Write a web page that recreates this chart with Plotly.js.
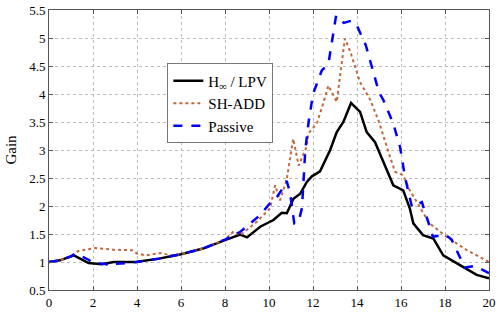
<!DOCTYPE html>
<html>
<head>
<meta charset="utf-8">
<script src="https://cdn.plot.ly/plotly-3.0.1.min.js"></script>
<style>html,body{margin:0;padding:0;background:#fff;}#chart{width:499px;height:312px;}</style>
</head>
<body>
<div id="chart"></div>
<script>
// H-infinity / LPV (solid black)
var hinfX = [0, 0.5, 1.13, 1.8, 2.4, 2.79, 2.94, 3.93, 5, 6, 7, 8, 8.5, 8.69, 9.0, 9.6, 10.2, 10.58, 10.81, 11.11, 11.42, 11.72, 11.95, 12.32, 12.78, 13.08, 13.38, 13.73, 14.14, 14.44, 14.82, 15.2, 15.65, 16.1, 16.4, 16.56, 17.0, 17.47, 17.92, 18.68, 19.44, 20];
var hinfY = [1.0, 1.03, 1.12, 0.98, 0.96, 0.98, 1.0, 1.0, 1.06, 1.14, 1.24, 1.39, 1.46, 1.49, 1.44, 1.63, 1.75, 1.88, 1.87, 2.13, 2.22, 2.43, 2.53, 2.62, 3.0, 3.32, 3.5, 3.84, 3.68, 3.32, 3.14, 2.79, 2.37, 2.28, 1.96, 1.69, 1.48, 1.42, 1.12, 0.945, 0.77, 0.71];

// SH-ADD (dotted brown)
var shX = [0, 0.5, 1.0, 1.35, 2.1, 2.9, 3.8, 4.0, 4.4, 5.1, 5.5, 6, 7, 8, 8.4, 8.7, 9.45, 10.05, 10.28, 10.5, 10.8, 11.1, 11.35, 11.45, 11.7, 11.8, 12.17, 12.4, 12.7, 13.08, 13.45, 13.7, 14.14, 14.6, 15.0, 15.5, 15.73, 16.1, 16.4, 16.75, 17.3, 18.07, 19.0, 20];
var shY = [1.0, 1.03, 1.1, 1.2, 1.25, 1.22, 1.21, 1.15, 1.12, 1.16, 1.12, 1.14, 1.24, 1.40, 1.55, 1.48, 1.72, 1.96, 2.37, 2.1, 2.46, 3.2, 2.72, 2.82, 3.05, 3.3, 3.47, 3.75, 4.15, 3.86, 4.99, 4.75, 4.21, 3.9, 3.5, 2.88, 2.61, 2.55, 2.28, 2.05, 1.69, 1.45, 1.21, 1.0];

// Passive (dashed blue)
var pasX = [0, 0.5, 1.0, 1.2, 1.5, 1.8, 2.0, 2.5, 2.8, 3.0, 3.5, 4.0, 5, 6, 7, 8, 8.7, 9.2, 9.6, 10.05, 10.36, 10.6, 10.8, 10.95, 11.15, 11.35, 11.5, 11.65, 11.8, 12.0, 12.4, 12.7, 13.05, 13.4, 13.75, 14.0, 14.4, 15.0, 15.2, 15.65, 15.96, 16.18, 16.5, 16.95, 17.45, 18.0, 18.3, 18.9, 19.35, 20];
var pasY = [1.0, 1.03, 1.1, 1.15, 1.1, 1.04, 0.98, 0.97, 0.93, 0.97, 0.98, 1.0, 1.06, 1.14, 1.24, 1.40, 1.54, 1.7, 1.84, 2.05, 2.16, 2.3, 2.45, 2.25, 1.69, 1.72, 1.97, 3.0, 3.5, 4.0, 4.42, 4.54, 5.40, 5.27, 5.31, 5.22, 4.87, 4.03, 3.89, 3.47, 3.05, 2.52, 1.98, 2.07, 1.45, 1.49, 1.40, 0.90, 0.93, 0.80];

var names = ["H<sub>\u221E</sub> / LPV", "SH-ADD", "Passive"];
var xTicks = [0, 2, 4, 6, 8, 10, 12, 14, 16, 18, 20];
var yTicks = [0.5, 1, 1.5, 2, 2.5, 3, 3.5, 4, 4.5, 5, 5.5];

var SERIF = 'Times New Roman, Liberation Serif, DejaVu Serif, serif';

var traces = [
  {x: hinfX, y: hinfY, name: names[0], mode: 'lines', line: {color: '#000000', width: 2.5}},
  {x: shX, y: shY, name: names[1], mode: 'lines', line: {color: '#c0683c', width: 2, dash: 'dot'}},
  {x: pasX, y: pasY, name: names[2], mode: 'lines', line: {color: '#0000ff', width: 2.5, dash: 'dash'}}
];

var axisCommon = {
  showline: true, mirror: 'ticks', linecolor: '#555', linewidth: 1,
  ticks: 'inside', ticklen: 4, tickcolor: '#555',
  showgrid: true, gridcolor: '#bbbbbb', griddash: 'dot', gridwidth: 1,
  zeroline: false,
  tickfont: {family: SERIF, size: 13, color: '#000'}
};

var layout = {
  width: 499, height: 312,
  margin: {l: 48.5, r: 10, t: 9.5, b: 22},
  paper_bgcolor: '#fff', plot_bgcolor: '#fff',
  font: {family: SERIF, color: '#000'},
  xaxis: Object.assign({}, axisCommon, {range: [0, 20], tickvals: xTicks, ticktext: xTicks.map(String)}),
  yaxis: Object.assign({}, axisCommon, {range: [0.5, 5.5], tickvals: yTicks, ticktext: yTicks.map(String),
    title: {text: 'Gain', font: {family: SERIF, size: 15}, standoff: 8}}),
  showlegend: true,
  legend: {x: 0.269, y: 0.809, xanchor: 'left', yanchor: 'top',
    bgcolor: '#fff', bordercolor: '#777', borderwidth: 1,
    font: {family: SERIF, size: 15, color: '#000'},
    tracegroupgap: 0, itemwidth: 30}
};

Plotly.newPlot('chart', traces, layout, {displayModeBar: false, staticPlot: true});
</script>
</body>
</html>
